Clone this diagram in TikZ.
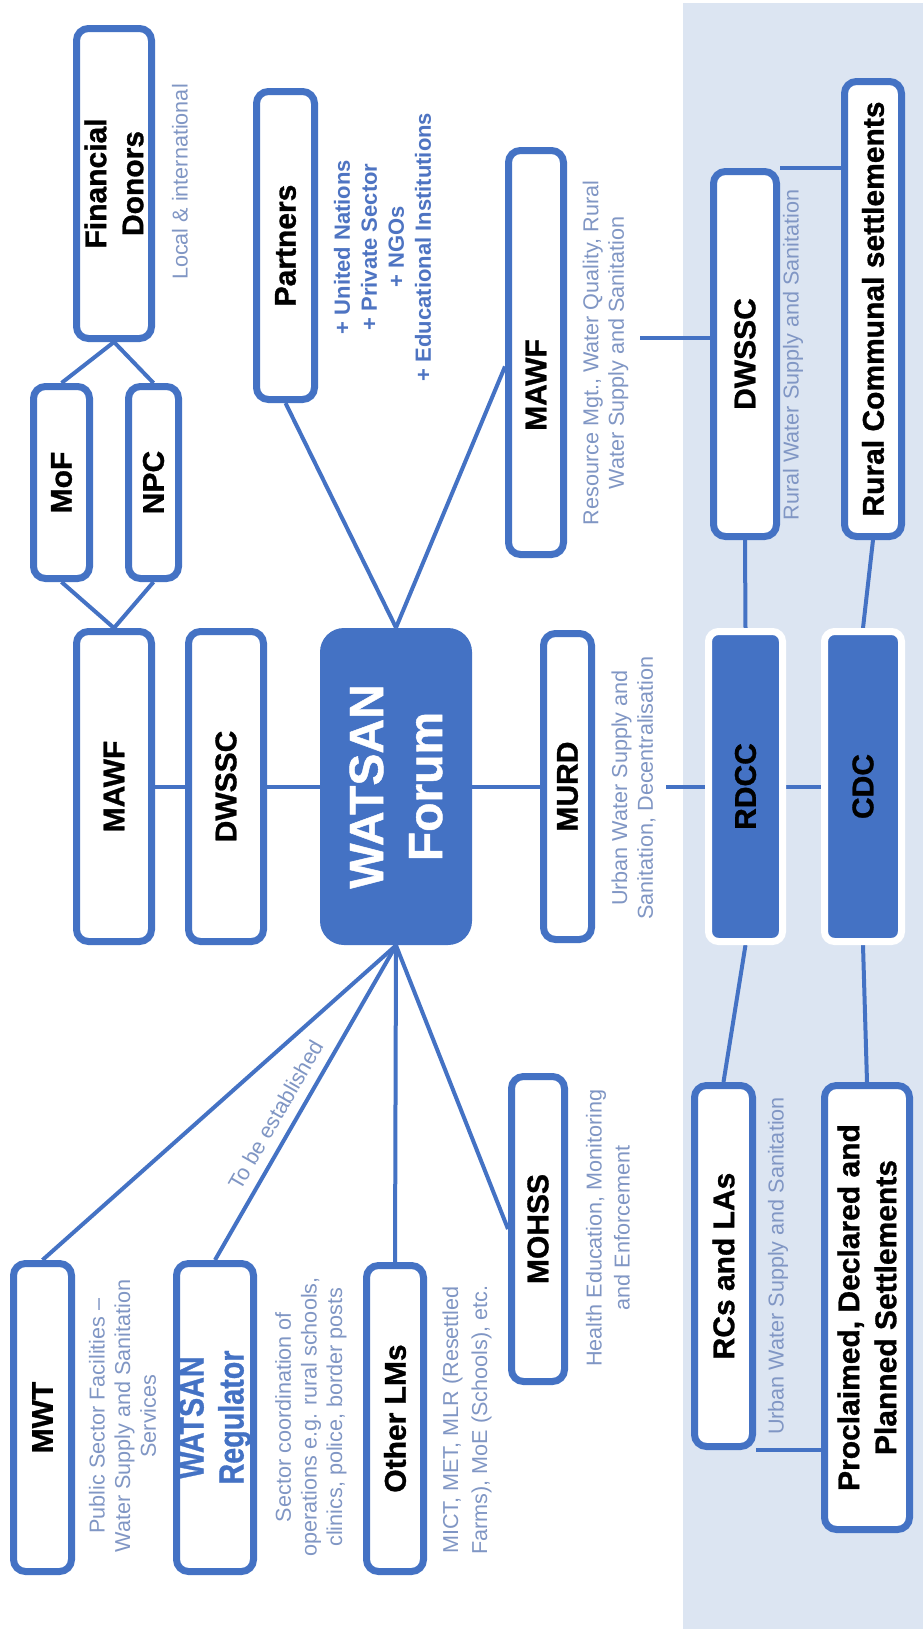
\documentclass[tikz,border=0pt]{standalone}
\usepackage{fontspec}
\usepackage{graphicx}
\setmainfont{Liberation Sans}
\newfontfamily\heavy{Liberation Sans}[FakeBold=1]
\usetikzlibrary{calc}
\definecolor{wblue}{HTML}{4472C4}
\definecolor{desc}{HTML}{8096C4}
\definecolor{pblue}{HTML}{4E74C2}
\definecolor{bgblue}{HTML}{DCE5F2}
\pgfdeclarelayer{back}
\pgfdeclarelayer{mid}
\pgfsetlayers{back,mid,main}
\begin{document}
\begin{tikzpicture}[x=0.5pt,y=-0.5pt,
  box/.style={draw=wblue, line width=3.5pt, rounded corners=6pt, fill=white, rotate=90, inner sep=0pt, align=center, font=\heavy\bfseries\fontsize{15}{18.5}\selectfont},
  fbox/.style={fill=wblue, draw=white, line width=3.5pt, rounded corners=5pt, rotate=90, inner sep=0pt, align=center, font=\heavy\bfseries\fontsize{15}{18.5}\selectfont},
  lbl/.style={rotate=90, inner sep=0pt, align=center, font=\heavy\bfseries\fontsize{15}{18.5}\selectfont},
  dsc/.style={text=desc, rotate=90, align=center, inner sep=0pt, font=\fontsize{10.8}{12.8}\selectfont},
  conn/.style={draw=wblue, line width=2pt},
]
\useasboundingbox (0,0) rectangle (923,1629);
\begin{pgfonlayer}{back}
\fill[white] (0,0) rectangle (923,1629);
\fill[bgblue] (683,3) rectangle (923,1629);
\end{pgfonlayer}

% boxes
\node[box, minimum width=155pt, minimum height=37.5pt] (findon) at (114,183.5) {Financial\\Donors};
\node[box, minimum width=154pt, minimum height=29pt] (partners) at (285.5,245.5) {Partners};
\node[box, minimum width=96pt, minimum height=28pt] (mof) at (61.5,482.5) {MoF};
\node[box, minimum width=96pt, minimum height=25pt] (npc) at (153.5,482.5) {NPC};
\node[box, minimum width=155pt, minimum height=37.5pt] (mawfA) at (114,786.5) {MAWF};
\node[box, minimum width=155pt, minimum height=37.5pt] (dwsscA) at (226,786.5) {DWSSC};
\node[fill=wblue, rounded corners=12pt, rotate=90, inner sep=0pt, minimum width=158.5pt, minimum height=76pt, text=white, align=center, font=\heavy\bfseries\fontsize{24}{29.5}\selectfont] (forum) at (396,786.5) {WATSAN\\Forum};
\node[box, minimum width=202pt, minimum height=27.5pt] (mawfB) at (536,352.5) {};
\node[lbl] (mawfBt) at (536,385) {MAWF};
\node[box, minimum width=153pt, minimum height=24pt] (murd) at (567.5,786.5) {MURD};
\node[box, minimum width=182.5pt, minimum height=31.5pt] (dwsscB) at (745,354) {DWSSC};
\node[box, minimum width=227.5pt, minimum height=28.5pt] (rural) at (873,309) {Rural Communal settlements};
\node[fbox, minimum width=155pt, minimum height=37pt] (rdcc) at (745.5,786.5) {RDCC};
\node[fbox, minimum width=155pt, minimum height=38.5pt] (cdc) at (863,786.5) {CDC};
\node[box, minimum width=154pt, minimum height=29pt] (mwt) at (42.5,1417.5) {MWT};
\node[box, minimum width=154pt, minimum height=38.5pt, text=wblue, font=\heavy\bfseries\fontsize{17.5}{20}\selectfont] (reg) at (215,1417.5) {\scalebox{0.82}[1]{WATSAN}\\\scalebox{0.82}[1]{Regulator}};
\node[box, minimum width=153pt, minimum height=28.5pt] (olms) at (395,1418.5) {Other LMs};
\node[box, minimum width=152.5pt, minimum height=26.5pt] (mohss) at (538,1229) {MOHSS};
\node[box, minimum width=180.5pt, minimum height=29pt] (rcs) at (723.5,1266) {RCs and LAs};
\node[box, minimum width=222pt, minimum height=42.5pt] (procl) at (867,1307.5) {Proclaimed, Declared and\\Planned Settlements};

% descriptions
\node[dsc] (findond) at (180,182) {Local \& international};
\node[dsc, text=pblue, font=\bfseries\fontsize{11}{13.5}\selectfont] (plist) at (382.5,247) {+ United Nations\\+ Private Sector\\+ NGOs\\+ Educational Institutions};
\node[dsc] (mawfBd) at (605.5,353) {Resource Mgt., Water Quality, Rural\\Water Supply and Sanitation};
\node[dsc] (dwsscBd) at (793,355) {Rural Water Supply and Sanitation};
\node[dsc] (murdd) at (633.5,788) {Urban Water Supply and\\Sanitation, Decentralisation};
\node[dsc] (mwtd) at (122.5,1416) {Public Sector Facilities –\\Water Supply and Sanitation\\Services};
\node[dsc] (regd) at (311,1417) {Sector coordination of\\operations e.g. rural schools,\\clinics, police, border posts};
\node[dsc, font=\fontsize{10.8}{14.5}\selectfont] (olmsd) at (467,1420) {MICT, MET, MLR (Resettled\\Farms), MoE (Schools), etc.};
\node[dsc, font=\fontsize{10.8}{14}\selectfont] (mohssd) at (608,1228) {Health Education, Monitoring\\and Enforcement};
\node[dsc] (rcsd) at (778,1266) {Urban Water Supply and Sanitation};

\coordinate (mawfBc) at (640,338);
\coordinate (murdc) at (666,787);

\begin{pgfonlayer}{mid}
\draw[conn] (findon.west) -- (mof.east);
\draw[conn] (findon.west) -- (npc.east);
\draw[conn] (mawfA.east) -- (mof.west);
\draw[conn] (mawfA.east) -- (npc.west);
\draw[conn] (mawfA.south) -- (dwsscA.north);
\draw[conn] (dwsscA.south) -- (forum.north);
\draw[conn] (forum.south) -- (murd.north);
\draw[conn] (forum.east) -- (partners.west);
\draw[conn] (forum.east) -- ($(mawfB.north)+(0,14)$);
\draw[conn] (forum.west) -- (mwt.east);
\draw[conn] (reg.east) -- node[pos=0.43, sloped, above=4pt, inner sep=1pt, text=desc, font=\fontsize{10.8}{12.8}\selectfont] (tbe) {To be established} (forum.west);
\draw[conn] (forum.west) -- (olms.east);
\draw[conn] (forum.west) -- (mohss.north);
\draw[conn] (mawfBc) -- (mawfBc -| dwsscB.north);
\draw[conn] (dwsscB.west) -- (rdcc.east);
\draw[conn] (dwsscB.south east) -- (dwsscB.south east -| rural.north);
\draw[conn] (rural.west) -- (cdc.east);
\draw[conn] (murdc) -- (murdc -| rdcc.north);
\draw[conn] (rdcc.south) -- (cdc.north);
\draw[conn] (rdcc.west) -- (rcs.east);
\draw[conn] (cdc.west) -- (procl.east);
\draw[conn] (rcs.south west) -- (rcs.south west -| procl.north);
\end{pgfonlayer}
\end{tikzpicture}
\end{document}
